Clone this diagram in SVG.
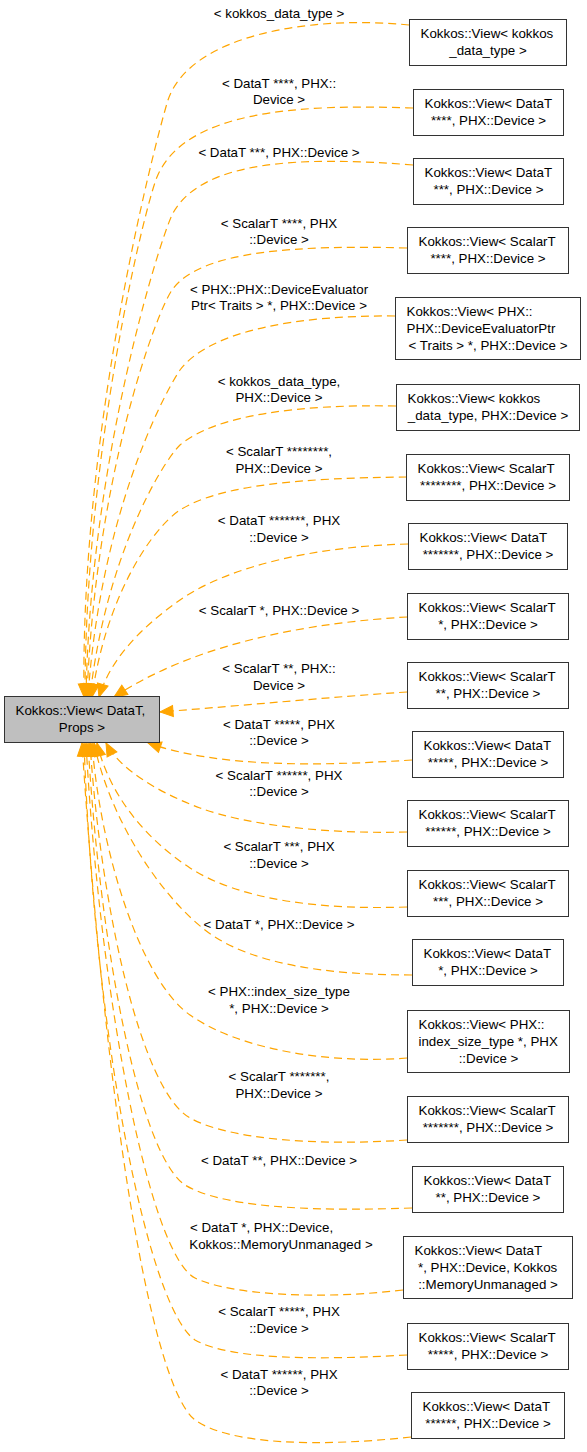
<svg xmlns="http://www.w3.org/2000/svg" width="587" height="1452" viewBox="0 0 587 1452">
<style>
text{font-family:"Liberation Sans",Arial,Helvetica,sans-serif;font-size:13.33px;fill:#000}
.m{text-anchor:middle}
.box{fill:#fff;stroke:#333;stroke-width:1}
.base{fill:#bfbfbf;stroke:#333;stroke-width:1}
.e{fill:none;stroke:#ffa500;stroke-width:1.2;stroke-dasharray:8,5;marker-end:url(#ah)}
</style>
<defs>
<marker id="ah" markerUnits="userSpaceOnUse" markerWidth="15" markerHeight="13" refX="13" refY="5.5" orient="auto" overflow="visible">
<path d="M0,0 L13,5.5 L0,11 z" fill="#ffa500" stroke="#ffa500" stroke-width="1" stroke-dasharray="none"/>
</marker>
</defs>
<rect width="587" height="1452" fill="#fff"/>
<g id="edges">
<g id="e1"><path class="e" d="M409,25 C310,15 190,35 168,100 C160,125 80,420 84,697"/><text class="m" x="279" y="18">&lt; kokkos_data_type &gt;</text></g>
<g id="e2"><path class="e" d="M413,108 C300,104 185,110 157,177 C145,206 85,450 85,697"/><text class="m" x="279" y="87.7">&lt; DataT ****, PHX::</text><text class="m" x="279" y="104.2">Device &gt;</text></g>
<g id="e3"><path class="e" d="M413,165 C300,156 200,160 172,215 C160,240 90,460 86,697"/><text class="m" x="279" y="156.7">&lt; DataT ***, PHX::Device &gt;</text></g>
<g id="e4"><path class="e" d="M407,248 C300,245 200,250 172,290 C155,315 95,480 87,697"/><text class="m" x="279" y="227.7">&lt; ScalarT ****, PHX</text><text class="m" x="279" y="244.2">::Device &gt;</text></g>
<g id="e5"><path class="e" d="M395,316 C300,315 210,330 180,370 C160,400 100,520 88,697"/><text class="m" x="279" y="293.7">&lt; PHX::PHX::DeviceEvaluator</text><text class="m" x="279" y="310.2">Ptr&lt; Traits &gt; *, PHX::Device &gt;</text></g>
<g id="e6"><path class="e" d="M396,406 C300,404 215,415 180,445 C160,465 105,560 90,697"/><text class="m" x="279" y="385.7">&lt; kokkos_data_type,</text><text class="m" x="279" y="402.2">PHX::Device &gt;</text></g>
<g id="e7"><path class="e" d="M407,477 C300,478 220,485 180,510 C150,530 105,600 92,697"/><text class="m" x="279" y="456.4">&lt; ScalarT ********,</text><text class="m" x="279" y="472.9">PHX::Device &gt;</text></g>
<g id="e8"><path class="e" d="M408,544 C320,546 230,565 180,600 C140,628 110,660 99,697"/><text class="m" x="279" y="525.4">&lt; DataT *******, PHX</text><text class="m" x="279" y="541.9">::Device &gt;</text></g>
<g id="e9"><path class="e" d="M407,617 C320,622 200,640 114,697"/><text class="m" x="279" y="615.4">&lt; ScalarT *, PHX::Device &gt;</text></g>
<g id="e10"><path class="e" d="M407,692 C330,697 250,705 160,712"/><text class="m" x="279" y="673">&lt; ScalarT **, PHX::</text><text class="m" x="279" y="689.5">Device &gt;</text></g>
<g id="e11"><path class="e" d="M412,760 C320,766 220,768 148,743"/><text class="m" x="279" y="728.7">&lt; DataT *****, PHX</text><text class="m" x="279" y="745.2">::Device &gt;</text></g>
<g id="e12"><path class="e" d="M407,832 C330,834 250,826 200,808 C160,793 120,770 106,743"/><text class="m" x="279" y="779.7">&lt; ScalarT ******, PHX</text><text class="m" x="279" y="796.2">::Device &gt;</text></g>
<g id="e13"><path class="e" d="M407,907 C320,910 240,900 190,868 C140,835 108,790 97,743"/><text class="m" x="279" y="851.4">&lt; ScalarT ***, PHX</text><text class="m" x="279" y="867.9">::Device &gt;</text></g>
<g id="e14"><path class="e" d="M412,975 C330,975 250,965 205,930 C160,895 110,820 94,743"/><text class="m" x="279" y="928.7">&lt; DataT *, PHX::Device &gt;</text></g>
<g id="e15"><path class="e" d="M407,1058 C330,1064 240,1050 190,1015 C140,980 100,850 92,743"/><text class="m" x="279" y="996.4">&lt; PHX::index_size_type</text><text class="m" x="279" y="1012.9">*, PHX::Device &gt;</text></g>
<g id="e16"><path class="e" d="M407,1140 C320,1146 230,1140 190,1118 C140,1090 100,900 90,743"/><text class="m" x="279" y="1081.4">&lt; ScalarT *******,</text><text class="m" x="279" y="1097.9">PHX::Device &gt;</text></g>
<g id="e17"><path class="e" d="M412,1208 C300,1212 220,1206 185,1185 C140,1155 100,950 88,743"/><text class="m" x="279" y="1164.7">&lt; DataT **, PHX::Device &gt;</text></g>
<g id="e18"><path class="e" d="M403,1290 C320,1300 230,1295 195,1278 C150,1255 100,1000 86,743"/><text x="190" y="1232">&lt; DataT *, PHX::Device,</text><text class="m" x="281" y="1248.5">Kokkos::MemoryUnmanaged &gt;</text></g>
<g id="e19"><path class="e" d="M407,1355 C320,1360 230,1360 195,1340 C150,1310 95,1050 84,743"/><text class="m" x="279" y="1316.4">&lt; ScalarT *****, PHX</text><text class="m" x="279" y="1332.9">::Device &gt;</text></g>
<g id="e20"><path class="e" d="M411,1437 C320,1447 230,1445 195,1420 C150,1385 105,1100 82,743"/><text class="m" x="279" y="1378.7">&lt; DataT ******, PHX</text><text class="m" x="279" y="1395.2">::Device &gt;</text></g>
</g>
<g id="n0"><rect class="base" x="4.5" y="696.5" width="155" height="46"/><text x="15.5" y="714.5">Kokkos::View&lt; DataT,</text><text class="m" x="82" y="731.5">Props &gt;</text></g>
<g id="n1"><rect class="box" x="409.5" y="19.5" width="157" height="46"/><text x="420.5" y="37.5">Kokkos::View&lt; kokkos</text><text class="m" x="488" y="54.5">_data_type &gt;</text></g>
<g id="n2"><rect class="box" x="413.5" y="89.5" width="150" height="46"/><text x="424.5" y="107.5">Kokkos::View&lt; DataT</text><text class="m" x="488.5" y="124.5">****, PHX::Device &gt;</text></g>
<g id="n3"><rect class="box" x="413.5" y="158.5" width="150" height="46"/><text x="424.5" y="176.5">Kokkos::View&lt; DataT</text><text class="m" x="488.5" y="193.5">***, PHX::Device &gt;</text></g>
<g id="n4"><rect class="box" x="407.5" y="227.5" width="161" height="46"/><text x="418.5" y="245.5">Kokkos::View&lt; ScalarT</text><text class="m" x="488" y="262.5">****, PHX::Device &gt;</text></g>
<g id="n5"><rect class="box" x="395.5" y="297.5" width="185" height="62"/><text x="406.5" y="315.5">Kokkos::View&lt; PHX::</text><text x="406.5" y="332.5">PHX::DeviceEvaluatorPtr</text><text class="m" x="488" y="349.5">&lt; Traits &gt; *, PHX::Device &gt;</text></g>
<g id="n6"><rect class="box" x="396.5" y="384.5" width="183" height="46"/><text x="407.5" y="402.5">Kokkos::View&lt; kokkos</text><text class="m" x="488" y="419.5">_data_type, PHX::Device &gt;</text></g>
<g id="n7"><rect class="box" x="406.5" y="454.5" width="163" height="46"/><text x="417.5" y="472.5">Kokkos::View&lt; ScalarT</text><text class="m" x="488" y="489.5">********, PHX::Device &gt;</text></g>
<g id="n8"><rect class="box" x="408.5" y="523.5" width="159" height="46"/><text x="419.5" y="541.5">Kokkos::View&lt; DataT</text><text class="m" x="488" y="558.5">*******, PHX::Device &gt;</text></g>
<g id="n9"><rect class="box" x="407.5" y="593.5" width="161" height="46"/><text x="418.5" y="611.5">Kokkos::View&lt; ScalarT</text><text class="m" x="488" y="628.5">*, PHX::Device &gt;</text></g>
<g id="n10"><rect class="box" x="407.5" y="662.5" width="161" height="46"/><text x="418.5" y="680.5">Kokkos::View&lt; ScalarT</text><text class="m" x="488" y="697.5">**, PHX::Device &gt;</text></g>
<g id="n11"><rect class="box" x="412.5" y="731.5" width="151" height="46"/><text x="423.5" y="749.5">Kokkos::View&lt; DataT</text><text class="m" x="488" y="766.5">*****, PHX::Device &gt;</text></g>
<g id="n12"><rect class="box" x="407.5" y="800.5" width="161" height="46"/><text x="418.5" y="818.5">Kokkos::View&lt; ScalarT</text><text class="m" x="488" y="835.5">******, PHX::Device &gt;</text></g>
<g id="n13"><rect class="box" x="407.5" y="870.5" width="161" height="46"/><text x="418.5" y="888.5">Kokkos::View&lt; ScalarT</text><text class="m" x="488" y="905.5">***, PHX::Device &gt;</text></g>
<g id="n14"><rect class="box" x="412.5" y="939.5" width="151" height="46"/><text x="423.5" y="957.5">Kokkos::View&lt; DataT</text><text class="m" x="488" y="974.5">*, PHX::Device &gt;</text></g>
<g id="n15"><rect class="box" x="407.5" y="1010.5" width="162" height="62"/><text x="418.5" y="1028.5">Kokkos::View&lt; PHX::</text><text x="418.5" y="1045.5">index_size_type *, PHX</text><text class="m" x="488.5" y="1062.5">::Device &gt;</text></g>
<g id="n16"><rect class="box" x="407.5" y="1096.5" width="161" height="46"/><text x="418.5" y="1114.5">Kokkos::View&lt; ScalarT</text><text class="m" x="488" y="1131.5">*******, PHX::Device &gt;</text></g>
<g id="n17"><rect class="box" x="412.5" y="1166.5" width="151" height="46"/><text x="423.5" y="1184.5">Kokkos::View&lt; DataT</text><text class="m" x="488" y="1201.5">**, PHX::Device &gt;</text></g>
<g id="n18"><rect class="box" x="403.5" y="1236.5" width="169" height="62"/><text x="414.5" y="1254.5">Kokkos::View&lt; DataT</text><text x="418" y="1271.5">*, PHX::Device, Kokkos</text><text class="m" x="488" y="1288.5">::MemoryUnmanaged &gt;</text></g>
<g id="n19"><rect class="box" x="407.5" y="1323.5" width="161" height="46"/><text x="418.5" y="1341.5">Kokkos::View&lt; ScalarT</text><text class="m" x="488" y="1358.5">*****, PHX::Device &gt;</text></g>
<g id="n20"><rect class="box" x="411.5" y="1392.5" width="153" height="46"/><text x="422.5" y="1410.5">Kokkos::View&lt; DataT</text><text class="m" x="488" y="1427.5">******, PHX::Device &gt;</text></g>
</svg>
